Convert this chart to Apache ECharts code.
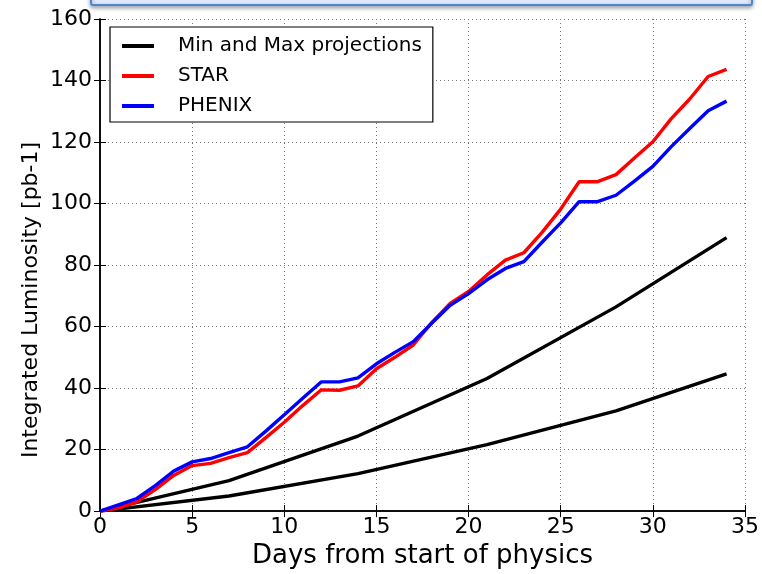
<!DOCTYPE html>
<html><head><meta charset="utf-8">
<script src="https://cdn.jsdelivr.net/npm/echarts@6/dist/echarts.min.js"></script>
<style>html,body{margin:0;padding:0;background:#fff}#c{width:762px;height:574px}</style>
</head><body><div id="c"></div>
<script>
const days = [0,1,2,3,4,5,6,7,8,9,10,11,12,13,14,15,16,17,18,19,20,21,22,23,24,25,26,27,28,29,30,31,32,33,34];
const star = [0,1.0,3.0,7.0,11.6,14.8,15.5,17.4,19.0,23.9,28.9,34.3,39.4,39.3,40.7,46.3,50.0,54.0,61.3,67.5,71.4,76.8,81.6,84.0,90.7,98.2,107.1,107.1,109.4,114.8,120.1,127.6,134.0,141.3,143.6];
const phenix = [0,2.0,4.1,8.3,13.0,16.0,17.1,19.0,20.9,26.0,31.3,36.7,42.0,42.0,43.3,47.9,51.6,55.1,61.1,66.9,70.7,75.2,78.9,81.1,87.5,93.7,100.6,100.6,102.7,107.3,112.1,118.5,124.4,130.2,133.3];
const projDays = [0,7,14,21,28,34];
const projMax = [0,9.9,24.4,43.1,66.4,88.9];
const projMin = [0,4.9,12.2,21.6,32.6,44.6];
const xTicks = [0,5,10,15,20,25,30,35];
const yTicks = [0,20,40,60,80,100,120,140,160];

const pair = (xs, ys) => xs.map((x,i)=>[x, ys[i]]);
const font = 'DejaVu Sans';
const chart = echarts.init(document.getElementById('c'));
const lineSeries = (name, color, data) => ({
  name, type:'line', data, showSymbol:false, symbol:'circle', symbolSize:4,
  lineStyle:{color, width:3.4}, itemStyle:{color}, animation:false, z:3
});
chart.setOption({
  animation:false,
  graphic:[
    {type:'rect', shape:{x:91,y:-12,width:661,height:17,r:2},
     style:{fill:'#dfe9f8',stroke:'#4f86d6',lineWidth:2,shadowBlur:4,shadowColor:'rgba(0,0,0,0.35)',shadowOffsetY:2}},
    {type:'text', x:31, y:300, rotation:Math.PI/2, z:10,
     style:{text:'Integrated Luminosity [pb-1]', font:'22px "DejaVu Sans"', fill:'#000', align:'center', verticalAlign:'middle'}}
  ],
  grid:{left:100,right:17,top:19,bottom:56},
  legend:{
    orient:'vertical', left:110, top:27, padding:[9,11,6,12],
    borderColor:'#000', borderWidth:1.2, borderRadius:0, backgroundColor:'#fff',
    itemWidth:32, itemHeight:4, itemGap:10, icon:'rect',
    textStyle:{fontFamily:font, fontSize:20, color:'#000', padding:[0,0,0,19]},
    data:['Min and Max projections','STAR','PHENIX']
  },
  xAxis:[{
    type:'value', min:0, max:35, interval:5,
    name:'Days from start of physics', nameLocation:'middle', nameGap:31,
    nameTextStyle:{fontFamily:font, fontSize:26, color:'#000'},
    axisLine:{lineStyle:{color:'#000', width:1.5}},
    axisTick:{inside:true, length:6, lineStyle:{color:'#000'}},
    axisLabel:{fontFamily:font, fontSize:22, color:'#000', margin:5, formatter:v=>xTicks.includes(v)?String(v):''},
    splitLine:{show:true, lineStyle:{color:'#777', type:[1,3], width:1}}
  },{
    type:'value', min:0, max:35, interval:5, position:'top',
    axisLine:{lineStyle:{color:'#000', width:1.5}},
    axisTick:{inside:true, length:6, lineStyle:{color:'#000'}},
    axisLabel:{show:false}, splitLine:{show:false}
  }],
  yAxis:[{
    type:'value', min:0, max:160, interval:20,
    axisLine:{show:true, lineStyle:{color:'#000', width:1.5}},
    axisTick:{show:true, inside:true, length:6, lineStyle:{color:'#000'}},
    axisLabel:{fontFamily:font, fontSize:22, color:'#000', margin:8, formatter:v=>yTicks.includes(v)?String(v):''},
    splitLine:{show:true, lineStyle:{color:'#777', type:[1,3], width:1}}
  },{
    type:'value', min:0, max:160, interval:20, position:'right',
    axisLine:{show:true, lineStyle:{color:'#000', width:1.5}},
    axisTick:{show:true, inside:true, length:6, lineStyle:{color:'#000'}},
    axisLabel:{show:false}, splitLine:{show:false}
  }],
  series:[
    lineSeries('Min and Max projections', '#000', pair(projDays, projMax)),
    lineSeries('Min and Max projections', '#000', pair(projDays, projMin)),
    lineSeries('STAR', '#ff0000', pair(days, star)),
    lineSeries('PHENIX', '#0000ff', pair(days, phenix))
  ]
});
</script></body></html>
